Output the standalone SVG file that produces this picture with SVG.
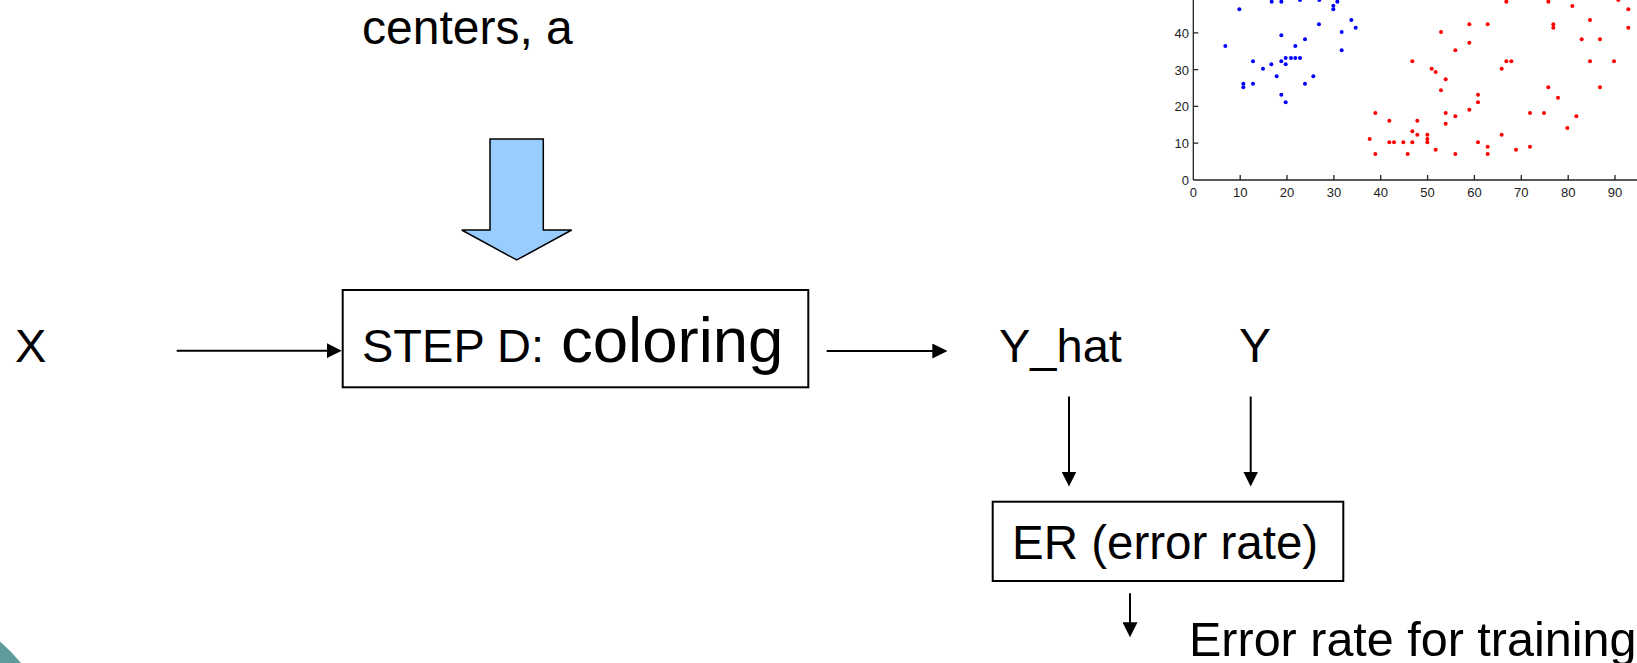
<svg xmlns="http://www.w3.org/2000/svg" width="1637" height="663" viewBox="0 0 1637 663">
  <style>
    .t { font-family: "Liberation Sans", Arial, Helvetica, sans-serif; fill: #000; }
    .box { fill: #fff; stroke: #000; stroke-width: 2; }
    .wire { stroke: #000; stroke-width: 2; fill: none; marker-end: url(#head); }
    .axis { stroke: #222; stroke-width: 1.3; fill: none; }
    .tick { font-family: "Liberation Sans", Arial, Helvetica, sans-serif; font-size: 13px; fill: #222; }
    .blue circle { fill: #0000ff; }
    .red circle { fill: #ff0000; }
  </style>
  <defs>
    <marker id="head" viewBox="0 0 15 15" refX="2" refY="7.5" markerWidth="15" markerHeight="15" markerUnits="userSpaceOnUse" orient="auto">
      <path d="M0,0 L15,7.5 L0,15 Z" fill="#000"/>
    </marker>
  </defs>

  <rect width="1637" height="663" fill="#fff"/>

  <!-- scatter plot of the two clusters -->
  <g id="scatter">
    <g class="axis">
      <line x1="1193.3" y1="0" x2="1193.3" y2="180"/>
      <line x1="1193.3" y1="180" x2="1637" y2="180"/>
      <path d="M1240.2,180v-5 M1287,180v-5 M1333.9,180v-5 M1380.7,180v-5 M1427.6,180v-5 M1474.4,180v-5 M1521.3,180v-5 M1568.2,180v-5 M1615,180v-5"/>
      <path d="M1193.3,143.2h5 M1193.3,106.4h5 M1193.3,69.6h5 M1193.3,32.8h5"/>
    </g>
    <g class="tick" text-anchor="middle">
      <text x="1193.3" y="197">0</text>
      <text x="1240.2" y="197">10</text>
      <text x="1287" y="197">20</text>
      <text x="1333.9" y="197">30</text>
      <text x="1380.7" y="197">40</text>
      <text x="1427.6" y="197">50</text>
      <text x="1474.4" y="197">60</text>
      <text x="1521.3" y="197">70</text>
      <text x="1568.2" y="197">80</text>
      <text x="1615" y="197">90</text>
    </g>
    <g class="tick" text-anchor="end">
      <text x="1189" y="185">0</text>
      <text x="1189" y="148">10</text>
      <text x="1189" y="111">20</text>
      <text x="1189" y="74.5">30</text>
      <text x="1189" y="37.5">40</text>
    </g>
    <g transform="translate(1120,0) scale(0.33333)">
      <g class="blue">
        <circle cx="316" cy="138" r="6"/><circle cx="358" cy="28" r="6"/><circle cx="455" cy="5" r="6"/>
        <circle cx="484" cy="5" r="6"/><circle cx="540" cy="0" r="6"/><circle cx="598" cy="0" r="6"/>
        <circle cx="640" cy="17" r="6"/><circle cx="640" cy="28" r="6"/><circle cx="652" cy="5" r="6"/>
        <circle cx="597" cy="73" r="6"/><circle cx="694" cy="60" r="6"/><circle cx="707" cy="83" r="6"/>
        <circle cx="665" cy="96" r="6"/><circle cx="665" cy="151" r="6"/><circle cx="555" cy="118" r="6"/>
        <circle cx="526" cy="138" r="6"/><circle cx="484" cy="106" r="6"/><circle cx="399" cy="184" r="6"/>
        <circle cx="429" cy="206" r="6"/><circle cx="454" cy="193" r="6"/><circle cx="484" cy="184" r="6"/>
        <circle cx="497" cy="174" r="6"/><circle cx="513" cy="174" r="6"/><circle cx="526" cy="174" r="6"/>
        <circle cx="540" cy="174" r="6"/><circle cx="497" cy="193" r="6"/><circle cx="370" cy="251" r="6"/>
        <circle cx="370" cy="262" r="6"/><circle cx="399" cy="251" r="6"/><circle cx="470" cy="229" r="6"/>
        <circle cx="484" cy="284" r="6"/><circle cx="497" cy="307" r="6"/><circle cx="555" cy="251" r="6"/>
        <circle cx="580" cy="229" r="6"/>
      </g>
      <g class="red">
        <circle cx="749" cy="417" r="6"/><circle cx="766" cy="339" r="6"/><circle cx="766" cy="462" r="6"/>
        <circle cx="808" cy="362" r="6"/><circle cx="808" cy="427" r="6"/><circle cx="822" cy="427" r="6"/>
        <circle cx="850" cy="427" r="6"/><circle cx="863" cy="462" r="6"/><circle cx="877" cy="184" r="6"/>
        <circle cx="877" cy="394" r="6"/><circle cx="877" cy="427" r="6"/><circle cx="892" cy="362" r="6"/>
        <circle cx="892" cy="404" r="6"/><circle cx="922" cy="404" r="6"/><circle cx="922" cy="417" r="6"/>
        <circle cx="922" cy="427" r="6"/><circle cx="947" cy="449" r="6"/><circle cx="935" cy="206" r="6"/>
        <circle cx="947" cy="216" r="6"/><circle cx="963" cy="96" r="6"/><circle cx="963" cy="271" r="6"/>
        <circle cx="977" cy="238" r="6"/><circle cx="977" cy="339" r="6"/><circle cx="977" cy="371" r="6"/>
        <circle cx="1006" cy="151" r="6"/><circle cx="1006" cy="349" r="6"/><circle cx="1006" cy="462" r="6"/>
        <circle cx="1048" cy="73" r="6"/><circle cx="1048" cy="128" r="6"/><circle cx="1048" cy="329" r="6"/>
        <circle cx="1074" cy="284" r="6"/><circle cx="1074" cy="307" r="6"/><circle cx="1074" cy="427" r="6"/>
        <circle cx="1103" cy="73" r="6"/><circle cx="1103" cy="440" r="6"/><circle cx="1103" cy="462" r="6"/>
        <circle cx="1145" cy="206" r="6"/><circle cx="1145" cy="404" r="6"/><circle cx="1159" cy="5" r="6"/>
        <circle cx="1159" cy="184" r="6"/><circle cx="1174" cy="184" r="6"/><circle cx="1188" cy="449" r="6"/>
        <circle cx="1230" cy="339" r="6"/><circle cx="1230" cy="440" r="6"/><circle cx="1272" cy="339" r="6"/>
        <circle cx="1285" cy="5" r="6"/><circle cx="1285" cy="262" r="6"/><circle cx="1314" cy="293" r="6"/>
        <circle cx="1357" cy="18" r="6"/><circle cx="1410" cy="60" r="6"/><circle cx="1525" cy="28" r="6"/>
        <circle cx="1525" cy="83" r="6"/><circle cx="1300" cy="73" r="6"/><circle cx="1300" cy="83" r="6"/>
        <circle cx="1385" cy="118" r="6"/><circle cx="1440" cy="118" r="6"/><circle cx="1410" cy="184" r="6"/>
        <circle cx="1482" cy="184" r="6"/><circle cx="1440" cy="262" r="6"/><circle cx="1369" cy="349" r="6"/>
        <circle cx="1342" cy="384" r="6"/><circle cx="1495" cy="0" r="6"/>
      </g>
    </g>
  </g>

  <!-- corner decoration -->
  <path d="M0,641.5 Q11,651 21,663 L0,663 Z" fill="#5f9b9b"/>

  <!-- nodes -->
  <g id="centers">
    <text class="t" x="362" y="43.5" font-size="48">centers, a</text>
  </g>
  <g id="centers-arrow">
    <polygon points="490,139 543.3,139 543.3,230 571.7,230 516.7,260 461.7,230 490,230" fill="#99ccff" stroke="#000" stroke-width="1.5"/>
  </g>
  <g id="input-x">
    <text class="t" x="15" y="361.7" font-size="47">X</text>
  </g>
  <g id="step-d">
    <rect class="box" x="342.7" y="290" width="465.6" height="97.3"/>
    <text class="t" x="362" y="361.7" font-size="47">STEP D: <tspan font-size="63.5" dx="4">coloring</tspan></text>
  </g>
  <g id="y-hat">
    <text class="t" x="999" y="361.7" font-size="47">Y_hat</text>
  </g>
  <g id="y-true">
    <text class="t" x="1239" y="361.7" font-size="48">Y</text>
  </g>
  <g id="er">
    <rect class="box" x="992.7" y="501.7" width="350.6" height="79.3"/>
    <text class="t" x="1012" y="559" font-size="47.5">ER (error rate)</text>
  </g>
  <g id="er-output">
    <text class="t" x="1189" y="656" font-size="48.5">Error rate for training</text>
  </g>

  <!-- connectors -->
  <g id="connectors">
    <line class="wire" x1="176.7" y1="350.7" x2="328.7" y2="350.7"/>
    <line class="wire" x1="826.7" y1="351" x2="934.3" y2="351"/>
    <line class="wire" x1="1069" y1="396.5" x2="1069" y2="473.5"/>
    <line class="wire" x1="1250.7" y1="396.5" x2="1250.7" y2="473.5"/>
    <line class="wire" x1="1130" y1="593.3" x2="1130" y2="624.3"/>
  </g>
</svg>
